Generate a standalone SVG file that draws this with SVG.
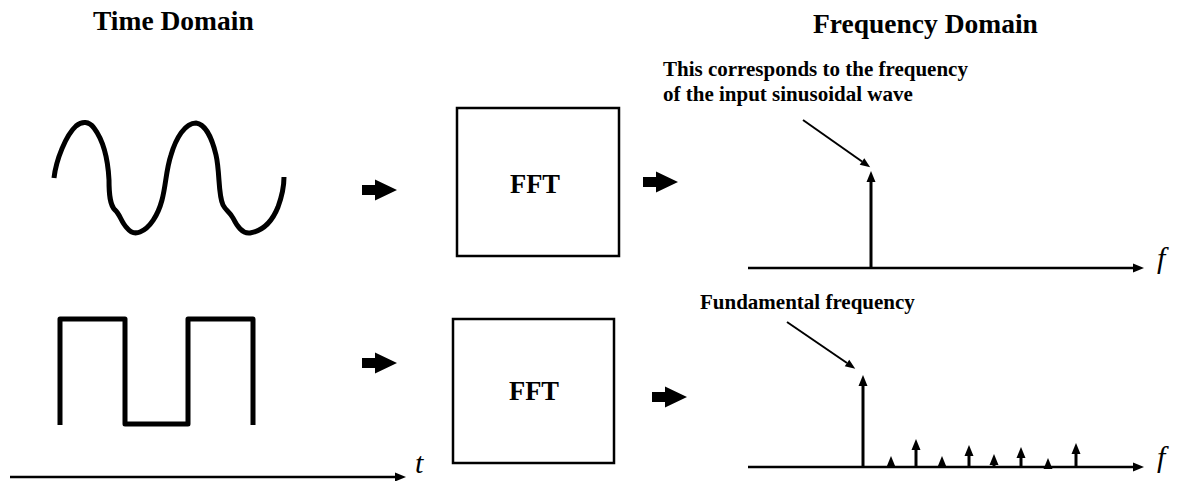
<svg xmlns="http://www.w3.org/2000/svg" width="1179" height="481" viewBox="0 0 1179 481">
<style>
.title{font-family:"Liberation Serif","Times New Roman",serif;font-weight:bold;font-size:27.5px;fill:#000}
.note{font-family:"Liberation Serif","Times New Roman",serif;font-weight:bold;font-size:21px;fill:#000}
.fft{font-family:"Liberation Serif","Times New Roman",serif;font-weight:bold;font-size:26.5px;fill:#000;text-anchor:middle}
.var{font-family:"Liberation Serif","Times New Roman",serif;font-style:italic;font-size:30px;fill:#000}
.wave{fill:none;stroke:#000;stroke-width:5;stroke-linejoin:round;stroke-linecap:butt}
.box{fill:#fff;stroke:#000;stroke-width:2.5}
.axis{stroke:#000;stroke-width:2.5;fill:none}
.ptr{stroke:#000;stroke-width:2;fill:none}
.spike{stroke:#000;stroke-width:3;fill:none}
.head{fill:#000}
.blk{fill:#000}
</style>
<defs>
<marker id="ah" markerUnits="userSpaceOnUse" markerWidth="14" markerHeight="12" refX="0" refY="0" viewBox="0 -6 14 12" orient="auto" overflow="visible">
<path d="M0,-4.5 L11,0 L0,4.5 z" fill="#000"/>
</marker>
<marker id="ph" markerUnits="userSpaceOnUse" markerWidth="14" markerHeight="12" refX="0" refY="0" viewBox="0 -6 14 12" orient="auto" overflow="visible">
<path d="M0,-4 L10,0 L0,4 z" fill="#000"/>
</marker>
<path id="blockArrow" d="M0,-5 L13,-5 L13,-10.5 L35,0 L13,10.5 L13,5 L0,5 z"/>
<path id="spikeHead" d="M-4.5,0 L0,-11 L4.5,0 z"/>
</defs>

<g id="titles">
<text class="title" x="93" y="30">Time Domain</text>
<text class="title" x="813" y="33">Frequency Domain</text>
</g>

<g id="sine-wave">
<path class="wave" d="M54,178 C56,160 66,135 76,126 C82,121 89,121 94,128 C103,140 108,160 109,180 C109,195 110,205 115,210 C120,214 121,222 127,228 C131,233 135,234 140,232 C150,228 158,215 162,200 C166,185 166,170 171,155 C176,138 185,123 196,123 C205,124 212,138 216,155 C220,172 218,195 223,205 C226,211 230,212 233,218 C237,226 242,234 250,233 C262,231 272,222 278,207 C282,196 284,186 284,177"/>
</g>

<g id="square-wave">
<path class="wave" d="M60,425 L60,319 L125,319 L125,424 L188,424 L188,319 L253,319 L253,425" stroke-linejoin="miter"/>
</g>

<g id="time-axis">
<line class="axis" x1="10" y1="477" x2="395" y2="477" marker-end="url(#ah)"/>
<text class="var" x="415" y="473">t</text>
</g>

<g id="fft-1">
<rect class="box" x="457" y="108" width="162" height="148"/>
<text class="fft" x="535" y="193">FFT</text>
</g>

<g id="fft-2">
<rect class="box" x="453" y="319" width="161" height="144"/>
<text class="fft" x="534" y="400">FFT</text>
</g>

<g id="spectrum-1">
<line class="axis" x1="748" y1="268" x2="1133" y2="268" marker-end="url(#ah)"/>
<text class="var" x="1157" y="268">f</text>
<line class="spike" x1="871" y1="268" x2="871" y2="180"/>
<use href="#spikeHead" class="head" x="871" y="182"/>
</g>

<g id="spectrum-2">
<line class="axis" x1="748" y1="467" x2="1133" y2="467" marker-end="url(#ah)"/>
<text class="var" x="1157" y="467">f</text>
<line class="spike" x1="863" y1="467" x2="863" y2="384"/>
<use href="#spikeHead" class="head" x="863" y="386"/>
<use href="#spikeHead" class="head" x="891" y="467"/>
<line class="spike" x1="916" y1="467" x2="916" y2="448"/>
<use href="#spikeHead" class="head" x="916" y="450"/>
<use href="#spikeHead" class="head" x="942" y="467"/>
<line class="spike" x1="969" y1="467" x2="969" y2="454"/>
<use href="#spikeHead" class="head" x="969" y="456"/>
<line class="spike" x1="994" y1="467" x2="994" y2="463"/>
<use href="#spikeHead" class="head" x="994" y="465"/>
<line class="spike" x1="1021" y1="467" x2="1021" y2="456"/>
<use href="#spikeHead" class="head" x="1021" y="458"/>
<use href="#spikeHead" class="head" x="1048" y="469"/>
<line class="spike" x1="1076" y1="467" x2="1076" y2="452"/>
<use href="#spikeHead" class="head" x="1076" y="454"/>
</g>

<g id="annotation-1">
<text class="note" x="663" y="76">This corresponds to the frequency</text>
<text class="note" x="663" y="101">of the input sinusoidal wave</text>
</g>

<g id="annotation-2">
<text class="note" x="700" y="309">Fundamental frequency</text>
</g>

<g id="connectors">
<use href="#blockArrow" class="blk" x="362" y="190"/>
<use href="#blockArrow" class="blk" x="643" y="182"/>
<use href="#blockArrow" class="blk" x="362" y="363"/>
<use href="#blockArrow" class="blk" x="652" y="397"/>
<line class="ptr" x1="803" y1="120" x2="862" y2="161.5" marker-end="url(#ph)"/>
<line class="ptr" x1="787" y1="322" x2="847" y2="363" marker-end="url(#ph)"/>
</g>
</svg>
